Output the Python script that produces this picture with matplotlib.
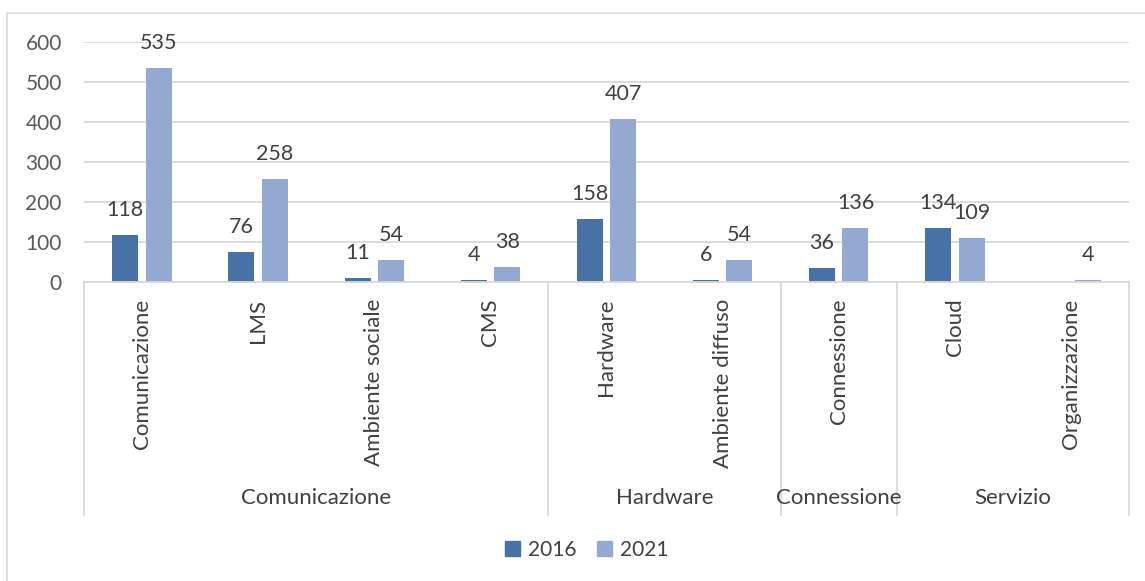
import matplotlib
matplotlib.use("Agg")
import matplotlib.pyplot as plt
import matplotlib.transforms as mtransforms
from matplotlib.patches import Patch
import numpy as np

plt.rcParams['font.family'] = ['Lato', 'DejaVu Sans']

categories = ["Comunicazione", "LMS", "Ambiente sociale", "CMS",
              "Hardware", "Ambiente diffuso", "Connessione",
              "Cloud", "Organizzazione"]
groups = ["Comunicazione", "Hardware", "Connessione", "Servizio"]
group_sizes = [4, 2, 1, 2]
values_2016 = [118, 76, 11, 4, 158, 6, 36, 134, None]
values_2021 = [535, 258, 54, 38, 407, 54, 136, 109, 4]
series_names = ["2016", "2021"]
y_ticks = [0, 100, 200, 300, 400, 500, 600]

c2016 = "#4672A6"
c2021 = "#94A9D1"
text_col = "#404040"
tick_col = "#595959"
grid_col = "#D9D9D9"

W, H = 1145, 581
fig = plt.figure(figsize=(W / 100, H / 100), dpi=100)

# outer chart frame
fig.add_artist(plt.Line2D([7 / W, 7 / W], [0, 1 - 13 / H], transform=fig.transFigure,
                          color=grid_col, lw=1.2))
fig.add_artist(plt.Line2D([7 / W, 1], [1 - 13 / H, 1 - 13 / H], transform=fig.transFigure,
                          color=grid_col, lw=1.2))

ax = fig.add_axes([84 / W, 1 - 282 / H, (1129 - 84) / W, (282 - 42) / H])
x = np.arange(len(categories))
bw = 0.224
gap = 0.064
off = (bw + gap) / 2

v16 = [v if v is not None else 0 for v in values_2016]
ax.bar(x - off, v16, bw, color=c2016, zorder=3)
ax.bar(x + off, values_2021, bw, color=c2021, zorder=3)

for xi, v in zip(x - off, values_2016):
    if v is not None:
        ax.annotate(str(v), (xi, v), xytext=(0, 18), textcoords="offset points",
                    ha="center", va="center", fontsize=15.5, color=text_col)
for xi, v in zip(x + off, values_2021):
    ax.annotate(str(v), (xi, v), xytext=(0, 18), textcoords="offset points",
                ha="center", va="center", fontsize=15.5, color=text_col)

ax.set_xlim(-0.5, len(categories) - 0.5)
ax.set_ylim(0, 600)
ax.set_yticks(y_ticks)
ax.set_yticklabels([str(t) for t in y_ticks], fontsize=15, color=tick_col)
ax.yaxis.grid(True, color=grid_col, lw=1.3, zorder=0)
ax.set_axisbelow(True)
ax.tick_params(axis="y", length=0, pad=16)
ax.tick_params(axis="x", length=0, pad=12)
ax.set_xticks(x)
ax.set_xticklabels(categories, rotation=90, fontsize=16, color=text_col, va="top")
for s in ["top", "right", "left"]:
    ax.spines[s].set_visible(False)
ax.spines["bottom"].set_color(grid_col)
ax.spines["bottom"].set_linewidth(1.3)
ax.spines["bottom"].set_zorder(4)

# multi-level category box
trans = mtransforms.blended_transform_factory(ax.transData, fig.transFigure)
edges = [-0.5]
for n in group_sizes:
    edges.append(edges[-1] + n)
for e in edges:
    ax.add_line(plt.Line2D([e, e], [1 - 282 / H, 1 - 515 / H], transform=trans,
                           color=grid_col, lw=1.3, clip_on=False))
for g, a, b in zip(groups, edges[:-1], edges[1:]):
    ax.text((a + b) / 2, 1 - 498 / H, g, transform=trans, ha="center", va="center",
            fontsize=16, color=text_col)

handles = [Patch(color=c2016), Patch(color=c2021)]
fig.legend(handles, series_names, loc="center", bbox_to_anchor=(587 / W, 1 - 550 / H),
           ncol=2, frameon=False, fontsize=15, handlelength=0.7, handleheight=0.7,
           handletextpad=0.4, columnspacing=1.0, labelcolor=text_col)

fig.savefig("out.png", dpi=100, facecolor="white")
